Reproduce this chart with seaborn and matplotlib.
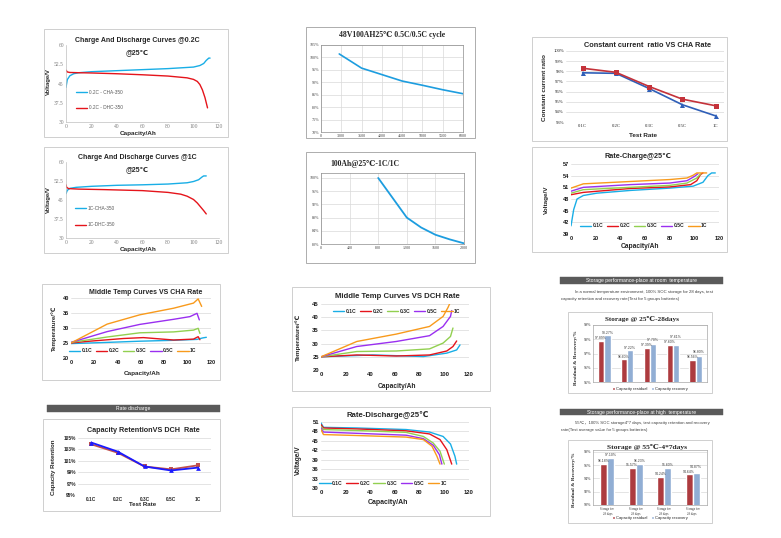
import numpy as np
import pandas as pd
import matplotlib
matplotlib.use('Agg')
import matplotlib.pyplot as plt
import seaborn as sns
from matplotlib.patches import Rectangle

# ------------------------------------------------------------------ data
# Panel 1: charge / discharge @0.2C
cap_ch02 = [0, 1, 3, 6, 10, 20, 40, 60, 80, 100, 105, 108, 110, 112, 113]
v_ch02 = [43.5, 46.5, 48.0, 48.8, 49.2, 49.6, 50.0, 50.4, 50.8, 51.4, 52.0, 52.8, 54.0, 54.9, 54.9]
cap_dh02 = [0, 1, 3, 10, 20, 40, 60, 80, 95, 100, 103, 105, 107, 109, 111]
v_dh02 = [50.2, 49.5, 49.3, 49.2, 49.1, 48.8, 48.4, 47.9, 47.2, 46.6, 45.8, 44.6, 42.5, 39.5, 35.5]
# Panel 2: charge / discharge @1C
cap_ch1 = [0, 1, 3, 8, 20, 40, 60, 80, 95, 100, 104, 107, 108, 110]
v_ch1 = [47.5, 48.8, 49.6, 50.0, 50.4, 50.8, 51.0, 51.3, 51.8, 52.3, 53.0, 54.2, 54.5, 54.5]
cap_dh1 = [0, 0.5, 2, 10, 30, 60, 80, 90, 95, 100, 103, 106, 108, 110]
v_dh1 = [51.0, 50.0, 49.5, 49.3, 49.1, 48.7, 48.0, 47.3, 46.5, 45.2, 43.8, 42.0, 40.8, 39.5]
# Panel 3: cycle 0.5C/0.5C
cycles_05 = [2950, 3500, 4000, 4500, 5000, 5500, 6000]
ret_05 = [101.4, 95.7, 93.1, 90.5, 88.8, 87.0, 85.4]
cyc_ticks = [2500, 3000, 3500, 4000, 4500, 5000, 5500, 6000]
cyc_ticklabels = ['0', '3000', '3500', '4000', '4500', '5000', '5500', '6000']
# Panel 4: cycle 1C/1C
cycles_1c = [800, 1000, 1200, 1400, 1600, 1800, 2000]
ret_1c = [100.0, 94.0, 88.0, 85.0, 82.8, 81.4, 80.2]
# Panel 5: constant current ratio
rates = ['0.1C', '0.2C', '0.3C', '0.5C', '1C']
cc_red = [98.3, 97.9, 96.5, 95.25, 94.6]
cc_blue = [97.85, 97.8, 96.3, 94.7, 93.6]
# Panel 6: rate charge
rc_cap = {
    '0.1C': [0, 2.2, 4.9, 10, 21, 48, 80, 99, 107, 111, 114, 117],
    '0.2C': [0, 10, 48, 80, 97, 102, 105, 107],
    '0.3C': [0, 10, 48, 80, 94, 102, 105],
    '0.5C': [0, 10, 48, 80, 94, 100, 103],
    '1C': [0, 10, 48, 80, 94, 99, 102, 110],
}
rc_v = {
    '0.1C': [41.1, 45.3, 48.0, 48.9, 49.5, 50.2, 50.8, 51.3, 52.3, 54.0, 54.7, 54.7],
    '0.2C': [49.1, 49.7, 50.7, 51.1, 51.7, 52.7, 54.3, 54.7],
    '0.3C': [49.5, 50.4, 51.0, 51.5, 52.1, 53.4, 54.4],
    '0.5C': [50.0, 51.0, 51.7, 52.1, 52.7, 53.8, 54.5],
    '1C': [50.8, 51.9, 52.5, 53.0, 53.4, 54.1, 54.7, 54.7],
}
# Panel 7: middle temp vs charge rate
tc_cap = {
    '0.1C': [0, 31, 59, 88, 108, 113, 116],
    '0.2C': [0, 16, 45, 62, 88, 105, 109, 110.5],
    '0.3C': [0, 31, 59, 88, 105, 109, 110.5],
    '0.5C': [0, 31, 59, 88, 102, 108, 110],
    '1C': [0, 31, 59, 88, 105, 109, 112],
}
tc_t = {
    '0.1C': [24.8, 25.2, 25.6, 25.9, 26.2, 26.7, 26.9],
    '0.2C': [25.0, 25.6, 26.5, 26.8, 26.0, 26.3, 27.1, 26.1],
    '0.3C': [25.2, 27.0, 28.4, 28.7, 29.3, 29.9, 28.2],
    '0.5C': [25.2, 28.8, 31.2, 32.9, 33.8, 34.9, 32.7],
    '1C': [25.0, 31.3, 34.4, 36.6, 38.3, 39.7, 37.2],
}
# Panel 8: middle temp vs discharge rate
td_cap = {
    '0.1C': [0, 42, 83, 102, 110, 112.7],
    '0.2C': [0, 29, 61, 88, 102, 107, 110],
    '0.3C': [0, 29, 61, 88, 99, 105, 107],
    '0.5C': [0, 29, 61, 88, 99, 105, 106],
    '1C': [0, 29, 61, 88, 99, 103, 104.6],
}
td_t = {
    '0.1C': [25.0, 25.7, 25.1, 26.4, 27.6, 29.5],
    '0.2C': [25.0, 25.7, 25.3, 25.7, 27.2, 28.9, 31.0],
    '0.3C': [25.0, 27.0, 27.2, 28.0, 30.2, 32.7, 35.9],
    '0.5C': [25.0, 28.9, 30.8, 33.0, 36.5, 40.3, 42.5],
    '1C': [25.0, 30.8, 33.6, 36.5, 40.3, 43.7, 45.4],
}
# Panel 9: storage room temperature
st25_res = [97.89, 96.60, 97.39, 97.60, 96.56]
st25_rec = [98.27, 97.22, 97.70, 97.61, 96.80]
st25_groups = ['1', '2', '3', '4', '5']
# Panel 10: capacity retention vs DCH rate
cr_red = [103.9, 102.4, 100.0, 99.5, 100.2]
cr_blue = [104.2, 102.6, 100.0, 99.3, 99.8]
# Panel 11: rate discharge
rd_cap = {
    '0.1C': [0, 2, 29, 69, 88, 99, 105, 108.6, 110],
    '0.2C': [0, 2, 29, 69, 88, 96.5, 102, 106],
    '0.3C': [0, 2, 29, 69, 83, 91, 96.5, 100],
    '0.5C': [0, 2, 29, 69, 83, 91, 96, 98],
    '1C': [0, 2, 29, 69, 83, 90, 94, 96.5],
}
rd_v = {
    '0.1C': [50.7, 49.3, 49.1, 48.6, 47.8, 46.4, 44.0, 40.1, 37.6],
    '0.2C': [50.2, 49.1, 48.8, 48.2, 47.2, 45.4, 42.2, 37.6],
    '0.3C': [49.6, 48.6, 48.3, 47.7, 46.4, 44.3, 41.7, 37.6],
    '0.5C': [49.1, 47.8, 47.4, 46.8, 45.7, 43.6, 40.6, 37.6],
    '1C': [48.6, 47.0, 46.7, 46.2, 45.4, 43.3, 40.1, 37.6],
}
# Panel 12: storage high temperature
st55_res = [96.18, 95.57, 94.24, 94.64]
st55_rec = [97.10, 96.23, 95.60, 94.87]
st55_groups = ['Storage for\n28 days', 'Storage for\n28 days ', 'Storage for\n28 days  ', 'Storage for\n28 days   ']

# ------------------------------------------------------------------ setup
sns.set_theme(style='white')
plt.rcParams['font.family'] = ['Liberation Sans', 'DejaVu Sans', 'Noto Sans CJK SC']
SERIF = ['Liberation Serif', 'DejaVu Serif']
SANS = ['Liberation Sans', 'DejaVu Sans', 'Noto Sans CJK SC']

BLUE = '#19aee6'; RED = '#e5141b'; GREEN = '#92d050'; PURPLE = '#9a2ff0'; ORANGE = '#f89a1c'
rate_pal = dict(zip(rates, [BLUE, RED, GREEN, PURPLE, ORANGE]))
BAR_RED = '#c0282d'; BAR_BLUE = '#86acdf'

W, H = 781, 538
fig = plt.figure(figsize=(W / 100, H / 100), dpi=100)
fig.patch.set_facecolor('white')


def axp(l, t, r, b):
    return fig.add_axes([l / W, 1 - b / H, (r - l) / W, (b - t) / H])


def frame(l, t, r, b, ec='#c8c8c8', lw=0.6, fc='none'):
    fig.add_artist(Rectangle((l / W, 1 - b / H), (r - l) / W, (b - t) / H,
                             transform=fig.transFigure, fill=(fc != 'none'),
                             fc=fc, ec=ec, lw=lw))


def ftext(x, y, s, **kw):
    kw.setdefault('ha', 'center')
    kw.setdefault('va', 'center')
    fig.text(x / W, 1 - y / H, s, **kw)


def base(ax, tsize=4, tcolor='#404040', family=SANS, weight='normal',
         spines=('left', 'bottom'), scolor='#bfbfbf', gridy=False, gridx=False):
    ax.set_facecolor('none')
    for k, sp in ax.spines.items():
        sp.set_visible(k in spines)
        sp.set_color(scolor)
        sp.set_linewidth(0.5)
    ax.tick_params(axis='both', length=0, pad=1.5, labelsize=tsize, labelcolor=tcolor)
    for lab in ax.get_xticklabels() + ax.get_yticklabels():
        lab.set_family(family)
        lab.set_weight(weight)
    ax.set_xlabel('')
    ax.set_ylabel('')
    if gridy:
        ax.yaxis.grid(True, color='#d9d9d9', lw=0.5)
    if gridx:
        ax.xaxis.grid(True, color='#d9d9d9', lw=0.5)
    ax.set_axisbelow(True)


def long_df(caps, vals):
    parts = [pd.DataFrame({'cap': caps[k], 'val': vals[k], 'rate': k}) for k in caps]
    return pd.concat(parts, ignore_index=True)


def header(l, t, r, b, s):
    frame(l, t, r, b, ec='#5a5a5a', fc='#5a5a5a', lw=0.3)
    ftext((l + r) / 2, (t + b) / 2 + 0.3, s, color='white', fontsize=3.6)


def rate_legend(ax, x, y):
    sns.move_legend(ax, 'center', bbox_to_anchor=(x, y), ncol=5, title=None, frameon=False,
                    prop={'size': 3.6, 'weight': 'bold'}, handlelength=2.3,
                    columnspacing=0.7, handletextpad=0.3, borderpad=0.1)


def bar_labels(ax, res, rec, fs=2.5):
    # value labels; a recovery label is lifted above its residual label when they would touch
    ymin, ymax = ax.get_ylim()
    pt_per_unit = ax.get_position().height * fig.get_figheight() * 72 / (ymax - ymin)
    th = fs * 1.25
    ax.bar_label(ax.containers[0], labels=[f'{v:.2f}%' for v in res], fontsize=fs,
                 padding=0.5, color='#404040')
    texts = ax.bar_label(ax.containers[1], labels=[f'{v:.2f}%' for v in rec], fontsize=fs,
                         padding=0.5, color='#404040')
    for t, a, b in zip(texts, res, rec):
        gap = (b - a) * pt_per_unit
        need = 0.8 + th - gap
        if need > 0.5:
            t.xyann = (0, need)


# ------------------------------------------------------------------ Panel 1
frame(44, 29, 228, 137)
ax = axp(66, 45, 219, 122)
df = pd.concat([pd.DataFrame({'cap': cap_ch02, 'v': v_ch02, 's': '0.2C - CHA-350'}),
                pd.DataFrame({'cap': cap_dh02, 'v': v_dh02, 's': '0.2C - DHC-350'})])
sns.lineplot(data=df, x='cap', y='v', hue='s', palette=[BLUE, RED], sort=False,
             estimator=None, lw=1.0, ax=ax)
ax.set_xlim(0, 120); ax.set_ylim(30, 60)
ax.set_xticks(range(0, 121, 20))
ax.set_yticks([30, 37.5, 45, 52.5, 60]); ax.set_yticklabels(['30', '37.5', '45', '52.5', '60'])
base(ax, tcolor='#808080', family=SERIF, tsize=4)
sns.move_legend(ax, 'center left', bbox_to_anchor=(0.04, 0.286), title=None, frameon=False,
                fontsize=3.4, labelspacing=2.2, handlelength=2.3, handletextpad=0.3,
                labelcolor='#595959')
ftext(137, 40, 'Charge And Discharge Curves @0.2C', fontsize=5.0, weight='bold', color='#262626')
ftext(137, 53, '@25℃', fontsize=5.0, weight='bold', color='#262626')
ftext(48, 82, 'Voltage/V', rotation=90, fontsize=4.3, weight='bold', color='#262626')
ftext(138, 133, 'Capacity/Ah', fontsize=4.6, weight='bold', color='#262626')

# ------------------------------------------------------------------ Panel 2
frame(44, 147, 228, 253)
ax = axp(66, 162, 219, 238)
df = pd.concat([pd.DataFrame({'cap': cap_ch1, 'v': v_ch1, 's': '1C-CHA-350'}),
                pd.DataFrame({'cap': cap_dh1, 'v': v_dh1, 's': '1C-DHC-350'})])
sns.lineplot(data=df, x='cap', y='v', hue='s', palette=[BLUE, RED], sort=False,
             estimator=None, lw=1.0, ax=ax)
ax.set_xlim(0, 120); ax.set_ylim(30, 60)
ax.set_xticks(range(0, 121, 20))
ax.set_yticks([30, 37.5, 45, 52.5, 60]); ax.set_yticklabels(['30', '37.5', '45', '52.5', '60'])
base(ax, tcolor='#808080', family=SERIF, tsize=4)
sns.move_legend(ax, 'center left', bbox_to_anchor=(0.03, 0.283), title=None, frameon=False,
                fontsize=3.4, labelspacing=2.4, handlelength=2.3, handletextpad=0.3,
                labelcolor='#595959')
ftext(137, 158, 'Charge And Discharge Curves @1C', fontsize=5.0, weight='bold', color='#262626')
ftext(137, 170, '@25℃', fontsize=5.0, weight='bold', color='#262626')
ftext(48, 200, 'Voltage/V', rotation=90, fontsize=4.3, weight='bold', color='#262626')
ftext(138, 249, 'Capacity/Ah', fontsize=4.6, weight='bold', color='#262626')

# ------------------------------------------------------------------ Panel 3
frame(306, 27, 475, 138, ec='#a0a0a0')
ax = axp(321, 45, 463, 132)
df = pd.DataFrame({'cyc': cycles_05, 'ret': ret_05})
sns.lineplot(data=df, x='cyc', y='ret', color='#1d9ddf', lw=1.2, ax=ax)
ax.set_xlim(2500, 6000); ax.set_ylim(70, 105)
ax.set_xticks(cyc_ticks); ax.set_xticklabels(cyc_ticklabels)
ax.set_yticks(range(70, 106, 5)); ax.set_yticklabels([f'{v}%' for v in range(70, 106, 5)])
base(ax, tsize=3.0, tcolor='#404040', family=SERIF, spines=('left', 'bottom', 'top', 'right'),
     scolor='#8c8c8c', gridy=True, gridx=True)
ftext(392, 35, '48V100AH25℃ 0.5C/0.5C cycle', fontsize=5.6, weight='bold', family=SERIF,
      color='#262626')

# ------------------------------------------------------------------ Panel 4
frame(306, 152, 475, 263, ec='#a0a0a0')
ax = axp(321, 173, 464, 244)
df = pd.DataFrame({'cyc': cycles_1c, 'ret': ret_1c})
sns.lineplot(data=df, x='cyc', y='ret', color='#1d9ddf', lw=1.3, ax=ax)
ax.set_xlim(0, 2000); ax.set_ylim(80, 101.5)
ax.set_xticks(range(0, 2001, 400))
ax.set_yticks(range(80, 101, 4)); ax.set_yticklabels([f'{v}%' for v in range(80, 101, 4)])
base(ax, tsize=3.0, tcolor='#404040', family=SERIF, spines=('left', 'bottom', 'top', 'right'),
     scolor='#8c8c8c', gridy=True, gridx=True)
ftext(330, 164, '100Ah@25℃-1C/1C', ha='left', fontsize=5.6, weight='bold', family=SERIF,
      color='#262626')

# ------------------------------------------------------------------ Panel 5
frame(532, 37, 727, 141)
ax = axp(566, 51, 724, 122)
df = pd.concat([pd.DataFrame({'rate': rates, 'val': cc_blue, 's': 'blue'}),
                pd.DataFrame({'rate': rates, 'val': cc_red, 's': 'red'})])
sns.lineplot(data=df, x='rate', y='val', hue='s', style='s', markers=['^', 's'], dashes=False,
             palette=['#2f5fb8', '#c4323a'], lw=1.2, markersize=3.6, markeredgewidth=0,
             sort=False, legend=False, ax=ax)
ax.set_xlim(-0.5, 4.25); ax.set_ylim(93, 100)
ax.set_yticks(range(93, 101)); ax.set_yticklabels([f'{v}%' for v in range(93, 101)])
base(ax, tsize=3.4, tcolor='#262626', family=SERIF, spines=(), gridy=True)
ftext(648, 46, 'Constant current  ratio VS CHA Rate', fontsize=5.3, weight='bold', color='#262626')
ftext(545, 88, 'Constant current ratio', rotation=90, fontsize=4.6, weight='bold', color='#262626')
ftext(643, 136, 'Test Rate', fontsize=4.6, weight='bold', color='#262626')

# ------------------------------------------------------------------ Panel 6
frame(532, 147, 727, 252)
ax = axp(571, 164, 719, 234)
df = long_df(rc_cap, rc_v)
sns.lineplot(data=df, x='cap', y='val', hue='rate', palette=rate_pal, sort=False,
             estimator=None, lw=1.0, ax=ax)
ax.set_xlim(0, 120); ax.set_ylim(39, 57)
ax.set_xticks(range(0, 121, 20)); ax.set_yticks(range(39, 58, 3))
base(ax, tsize=4.0, tcolor='#1a1a1a', weight='bold', spines=(), gridy=True)
rate_legend(ax, 0.49, 0.115)
ftext(638, 157, 'Rate-Charge@25℃', fontsize=5.2, weight='bold', color='#262626')
ftext(546, 200, 'Voltage/V', rotation=90, fontsize=4.6, weight='bold', color='#262626')
ftext(640, 246, 'Capacity/Ah', fontsize=4.8, weight='bold', color='#262626')

# ------------------------------------------------------------------ Panel 7
frame(42, 284, 220, 380)
ax = axp(71, 298, 211, 358)
df = long_df(tc_cap, tc_t)
sns.lineplot(data=df, x='cap', y='val', hue='rate', palette=rate_pal, sort=False,
             estimator=None, lw=1.0, ax=ax)
ax.set_xlim(0, 120); ax.set_ylim(20, 40)
ax.set_xticks(range(0, 121, 20)); ax.set_yticks(range(20, 41, 5))
base(ax, tsize=4.0, tcolor='#1a1a1a', weight='bold', spines=(), gridy=True)
rate_legend(ax, 0.44, 0.12)
ftext(146, 292, 'Middle Temp Curves VS CHA Rate', fontsize=5.0, weight='bold', color='#262626')
ftext(54, 328, 'Temperature/℃', rotation=90, fontsize=4.4, weight='bold', color='#262626')
ftext(142, 373, 'Capacity/Ah', fontsize=4.6, weight='bold', color='#262626')

# ------------------------------------------------------------------ Panel 8
frame(292, 287, 490, 391)
ax = axp(321, 304, 469, 370)
df = long_df(td_cap, td_t)
sns.lineplot(data=df, x='cap', y='val', hue='rate', palette=rate_pal, sort=False,
             estimator=None, lw=1.0, ax=ax)
ax.set_xlim(0, 120); ax.set_ylim(20, 45)
ax.set_xticks(range(0, 121, 20)); ax.set_yticks(range(20, 46, 5))
base(ax, tsize=4.2, tcolor='#1a1a1a', weight='bold', spines=(), gridy=True)
rate_legend(ax, 0.51, 0.89)
ftext(397, 297, 'Middle Temp Curves VS DCH Rate', fontsize=5.6, weight='bold', color='#262626')
ftext(298, 337, 'Temperature/℃', rotation=90, fontsize=4.6, weight='bold', color='#262626')
ftext(397, 386, 'Capacity/Ah', fontsize=4.8, weight='bold', color='#262626')

# ------------------------------------------------------------------ Panel 9
header(560, 277, 723, 284, 'Storage performance-place at room  temperature')
ftext(575, 292.5, 'In a normal temperature environment, 100% SOC storage for 28 days, test',
      ha='left', fontsize=3.1, color='#404040')
ftext(561, 299, 'capacity retention and recovery rate(Test for 5 groups batteries)',
      ha='left', fontsize=3.1, color='#404040')
frame(568, 312, 712, 393)
ax = axp(593, 325, 707, 382)
df = pd.concat([pd.DataFrame({'g': st25_groups, 'val': st25_res, 'k': 'Capacity residual'}),
                pd.DataFrame({'g': st25_groups, 'val': st25_rec, 'k': 'Capacity recovery'})])
sns.barplot(data=df, x='g', y='val', hue='k', palette=[BAR_RED, BAR_BLUE], width=0.55,
            errorbar=None, ax=ax)
ax.set_ylim(95, 99)
bar_labels(ax, st25_res, st25_rec)
ax.set_yticks(range(95, 100)); ax.set_yticklabels([f'{v}%' for v in range(95, 100)])
ax.set_xticks(range(5)); ax.set_xticklabels([''] * 5)
base(ax, tsize=3.0, tcolor='#262626', family=SERIF, spines=('left', 'bottom', 'top', 'right'),
     scolor='#a6a6a6', gridy=True)
sns.move_legend(ax, 'upper center', bbox_to_anchor=(0.5, -0.02), ncol=2, title=None,
                frameon=False, fontsize=3.0, handlelength=0.6, handleheight=0.6,
                columnspacing=1.0, handletextpad=0.3)
ftext(642, 319, 'Storage @ 25℃-28days', fontsize=5.2, weight='bold', family=SERIF, color='#262626')
ftext(576, 358, 'Residual & Recovery/%', rotation=90, fontsize=3.8, weight='bold', family=SERIF,
      color='#262626')

# ------------------------------------------------------------------ Panel 10
header(47, 405, 220, 412, 'Rate discharge')
frame(43, 419, 220, 511)
ax = axp(78, 438, 211, 495)
df = pd.concat([pd.DataFrame({'rate': rates, 'val': cr_red, 's': 'red'}),
                pd.DataFrame({'rate': rates, 'val': cr_blue, 's': 'blue'})])
sns.lineplot(data=df, x='rate', y='val', hue='s', style='s', markers=['s', '^'], dashes=False,
             palette=['#c0504d', '#1a1aff'], lw=1.3, markersize=3.4, markeredgewidth=0,
             sort=False, legend=False, ax=ax)
ax.set_xlim(-0.5, 4.5); ax.set_ylim(95, 105)
ax.set_yticks(range(95, 106, 2)); ax.set_yticklabels([f'{v}%' for v in range(95, 106, 2)])
base(ax, tsize=3.4, tcolor='#262626', weight='bold', spines=(), gridy=True)
ftext(143, 431, 'Capacity RetentionVS DCH  Rate', fontsize=5.2, weight='bold', color='#262626')
ftext(54, 467, 'Capacity Retention', rotation=90, fontsize=4.4, weight='bold', color='#262626')
ftext(143, 505, 'Test Rate', fontsize=4.4, weight='bold', color='#262626')

# ------------------------------------------------------------------ Panel 11
frame(292, 407, 490, 516)
ax = axp(321, 422, 469, 488)
df = long_df(rd_cap, rd_v)
sns.lineplot(data=df, x='cap', y='val', hue='rate', palette=rate_pal, sort=False,
             estimator=None, lw=1.0, ax=ax)
ax.set_xlim(0, 120); ax.set_ylim(30, 51)
ax.set_xticks(range(0, 121, 20)); ax.set_yticks(range(30, 52, 3))
base(ax, tsize=4.2, tcolor='#1a1a1a', weight='bold', spines=(), gridy=True)
rate_legend(ax, 0.42, 0.07)
ftext(388, 415, 'Rate-Discharge@25℃', fontsize=5.6, weight='bold', color='#262626')
ftext(298, 460, 'Voltage/V', rotation=90, fontsize=4.8, weight='bold', color='#262626')
ftext(388, 503, 'Capacity/Ah', fontsize=5.0, weight='bold', color='#262626')

# ------------------------------------------------------------------ Panel 12
header(560, 409, 723, 415, 'Storage performance-place at high  temperature')
ftext(575, 423, '55℃，100% SOC storage4*7 days, test capacity retention and recovery',
      ha='left', fontsize=3.1, color='#404040', family=SANS)
ftext(561, 430, 'rate(Test average value for 5 groups batteries)',
      ha='left', fontsize=3.1, color='#404040')
frame(568, 440, 712, 523)
ax = axp(593, 450, 707, 505)
df = pd.concat([pd.DataFrame({'g': st55_groups, 'val': st55_res, 'k': 'Capacity residual'}),
                pd.DataFrame({'g': st55_groups, 'val': st55_rec, 'k': 'Capacity recovery'})])
sns.barplot(data=df, x='g', y='val', hue='k', palette=[BAR_RED, BAR_BLUE], width=0.5,
            errorbar=None, ax=ax)
ax.set_ylim(90, 98.3)
bar_labels(ax, st55_res, st55_rec)
ax.set_yticks(range(90, 99, 2)); ax.set_yticklabels([f'{v}%' for v in range(90, 99, 2)])
base(ax, tsize=3.0, tcolor='#262626', family=SERIF, spines=('left', 'bottom', 'top', 'right'),
     scolor='#a6a6a6', gridy=True)
ax.tick_params(axis='x', labelsize=2.2)
sns.move_legend(ax, 'upper center', bbox_to_anchor=(0.5, -0.13), ncol=2, title=None,
                frameon=False, fontsize=3.0, handlelength=0.6, handleheight=0.6,
                columnspacing=1.0, handletextpad=0.3)
ftext(647, 447, 'Storage @ 55℃-4*7days', fontsize=5.4, weight='bold', family=SERIF, color='#262626')
ftext(574, 480, 'Residual & Recovery/%', rotation=90, fontsize=3.8, weight='bold', family=SERIF,
      color='#262626')

fig.savefig('out.png', dpi=100, facecolor='white')
